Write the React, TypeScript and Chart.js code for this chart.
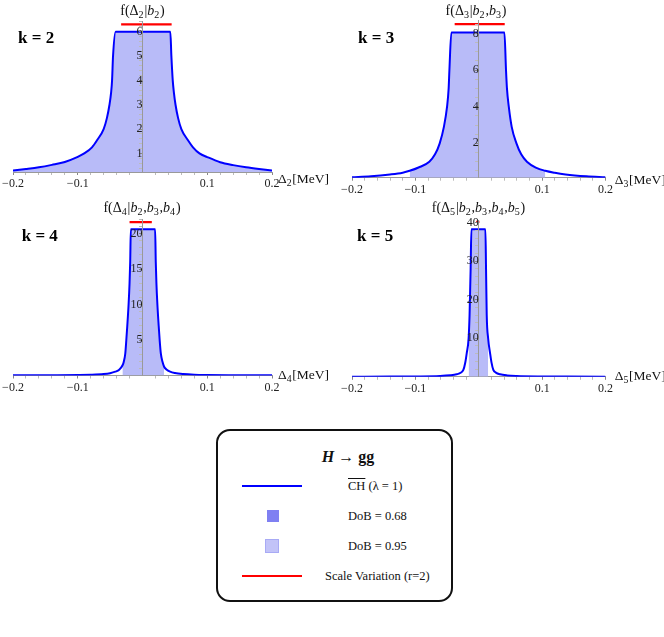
import React, { useEffect, useRef } from 'react';
import { Chart, registerables } from 'chart.js';

Chart.register(...registerables);

// ---------------- data ----------------
// k = 2
const k2X = [-0.2, -0.18, -0.16, -0.14, -0.12, -0.1, -0.09, -0.078, -0.07, -0.06, -0.055, -0.051, -0.0485, -0.047, -0.0455, -0.0415,
  0.043, 0.0446, 0.0467, 0.0485, 0.051, 0.055, 0.06, 0.07, 0.078, 0.088, 0.1, 0.12, 0.14, 0.16, 0.18, 0.2];
const k2Y = [0.3, 0.36, 0.43, 0.53, 0.65, 0.86, 1.0, 1.25, 1.55, 2.0, 2.45, 3.0, 3.5, 4.0, 5.0, 6.0,
  6.0, 5.0, 4.0, 3.5, 3.0, 2.45, 2.0, 1.55, 1.25, 1.0, 0.85, 0.64, 0.52, 0.43, 0.36, 0.3];
const k2Band = [-0.2, 0.2];
const k2RedX = [-0.033, 0.045];
const k2RedY = 6.3;

// k = 3
const k3X = [-0.2, -0.17, -0.14, -0.12, -0.109, -0.095, -0.078, -0.069, -0.0616, -0.055, -0.05, -0.0475, -0.0463, -0.0432,
  0.0405, 0.043, 0.0445, 0.0474, 0.052, 0.0595, 0.067, 0.076, 0.09, 0.105, 0.12, 0.137, 0.17, 0.2];
const k3Y = [0.15, 0.2, 0.3, 0.4, 0.5, 0.68, 1.0, 1.4, 2.0, 2.9, 4.0, 5.0, 6.0, 8.05,
  8.05, 6.0, 5.0, 4.0, 2.9, 2.0, 1.4, 1.0, 0.68, 0.5, 0.39, 0.3, 0.2, 0.15];
const k3Band = [-0.109, 0.105];
const k3RedX = [-0.038, 0.041];
const k3RedY = 8.5;

// k = 4
const k4X = [-0.2, -0.14, -0.1, -0.08, -0.06, -0.05, -0.042, -0.036, -0.031, -0.029, -0.0266, -0.025, -0.0235, -0.0215, -0.02, -0.019, -0.018,
  0.0195, 0.0205, 0.0215, 0.023, 0.025, 0.0265, 0.0283, 0.031, 0.0334, 0.037, 0.0426, 0.05, 0.063, 0.08, 0.1, 0.14, 0.2];
const k4Y = [0.02, 0.04, 0.065, 0.1, 0.2, 0.33, 0.54, 0.8, 1.4, 1.9, 3.1, 5.0, 7.0, 10.0, 13.0, 16.0, 20.6,
  20.6, 16.0, 13.0, 10.0, 7.0, 5.0, 3.1, 1.9, 1.24, 0.85, 0.54, 0.35, 0.2, 0.11, 0.07, 0.04, 0.02];
const k4Band = [-0.031, 0.0334];
const k4RedX = [-0.02, 0.0144];
const k4RedY = 21.6;

// k = 5
const k5X = [-0.2, -0.14, -0.1, -0.061, -0.045, -0.0348, -0.028, -0.0243, -0.0215, -0.019, -0.016, -0.0145, -0.0128, -0.0116,
  0.0105, 0.0115, 0.0126, 0.0148, 0.0179, 0.02, 0.023, 0.027, 0.0336, 0.045, 0.06, 0.1, 0.14, 0.2];
const k5Y = [0.03, 0.05, 0.08, 0.2, 0.38, 0.65, 1.1, 1.77, 3.5, 6.1, 10.0, 16.0, 28.0, 38.3,
  38.3, 28.0, 16.0, 10.0, 6.1, 3.8, 1.77, 1.1, 0.65, 0.35, 0.2, 0.08, 0.05, 0.03];
const k5Band = [-0.016, 0.0148];
const k5RedX = [-0.004, 0.001];
const k5RedY = 40.2;

// ticks
const xMajorTicks = [-0.2, -0.1, 0.1, 0.2];
const xMinorStep = 0.02;
const k2YTicks = [1, 2, 3, 4, 5, 6];
const k3YTicks = [2, 4, 6, 8];
const k4YTicks = [5, 10, 15, 20];
const k5YTicks = [10, 20, 30, 40];

// labels
const headers = ['f(Δ_2|~b~_2)', 'f(Δ_3|~b~_2,~b~_3)', 'f(Δ_4|~b~_2,~b~_3,~b~_4)', 'f(Δ_5|~b~_2,~b~_3,~b~_4,~b~_5)'];
const axisLabels = ['Δ_2[MeV]', 'Δ_3[MeV]', 'Δ_4[MeV]', 'Δ_5[MeV]'];
const kLabels = ['k = 2', 'k = 3', 'k = 4', 'k = 5'];

const panelData = [
  { xs: k2X, ys: k2Y, band: k2Band, redX: k2RedX, redY: k2RedY, yTicks: k2YTicks },
  { xs: k3X, ys: k3Y, band: k3Band, redX: k3RedX, redY: k3RedY, yTicks: k3YTicks },
  { xs: k4X, ys: k4Y, band: k4Band, redX: k4RedX, redY: k4RedY, yTicks: k4YTicks },
  { xs: k5X, ys: k5Y, band: k5Band, redX: k5RedX, redY: k5RedY, yTicks: k5YTicks },
];

// ---------------- layout / style ----------------
const X_AXIS_H = 20;
const panelLayout = [
  { left: 0, top: 0, pad: { left: 13, right: 60, top: 21, bottom: 28 - X_AXIS_H }, yMin: 0.237, yMax: 6.44, yMinor: 0.2,
    headerPos: [142.5, 10], axisPos: [278, 179], kPos: [18, 39] },
  { left: 332, top: 0, pad: { left: 20, right: 58.5, top: 20.7, bottom: 22.3 - X_AXIS_H }, yMin: 0.125, yMax: 8.69, yMinor: 0.5,
    headerPos: [144, 10], axisPos: [282.7, 180], kPos: [26, 39] },
  { left: 0, top: 200, pad: { left: 13, right: 60, top: 19.3, bottom: 24.5 - X_AXIS_H }, yMin: 0, yMax: 22, yMinor: 1,
    headerPos: [142, 7], axisPos: [278, 175], kPos: [21.7, 36.5] },
  { left: 332, top: 200, pad: { left: 20, right: 58.5, top: 20, bottom: 23.2 - X_AXIS_H }, yMin: 0, yMax: 40.7, yMinor: 2,
    headerPos: [146.5, 7], axisPos: [282.7, 176], kPos: [25, 36.5] },
];

const BLUE = 'rgb(0,0,255)';
const FILL = 'rgb(184,187,248)';
const RED = 'rgb(255,0,0)';
const AXIS = '#999999';
const SERIF = '"Liberation Serif", "Times New Roman", serif';

function fmtNum(v: number, digits: number) {
  return v.toFixed(digits).replace('-', '\u2212');
}

type Seg = { t: string; it: boolean; sub: boolean };
function parseRich(s: string): Seg[] {
  const segs: Seg[] = [];
  let it = false;
  for (let i = 0; i < s.length; i++) {
    const c = s[i];
    if (c === '~') { it = !it; continue; }
    if (c === '_') { segs.push({ t: s[i + 1], it: false, sub: true }); i++; continue; }
    const last = segs[segs.length - 1];
    if (last && !last.sub && last.it === it) last.t += c;
    else segs.push({ t: c, it, sub: false });
  }
  return segs;
}

function drawRich(ctx: CanvasRenderingContext2D, s: string, x: number, y: number, align: 'left' | 'center', size: number) {
  const segs = parseRich(s);
  const subSize = size * 0.72;
  const fontOf = (seg: Seg) => `${seg.it ? 'italic ' : ''}${seg.sub ? subSize : size}px ${SERIF}`;
  let total = 0;
  const widths = segs.map((seg) => {
    ctx.font = fontOf(seg);
    const w = ctx.measureText(seg.t).width + (seg.sub ? 0.8 : 0);
    total += w;
    return w;
  });
  let cx = align === 'center' ? x - total / 2 : x;
  ctx.textAlign = 'left';
  ctx.textBaseline = 'alphabetic';
  const base = y + size * 0.33;
  segs.forEach((seg, i) => {
    ctx.font = fontOf(seg);
    ctx.fillText(seg.t, cx, seg.sub ? base + size * 0.22 : base);
    cx += widths[i];
  });
}

const textPlugin = {
  id: 'panelText',
  afterDraw(chart: any, _args: any, opts: any) {
    const ctx: CanvasRenderingContext2D = chart.ctx;
    ctx.save();
    ctx.fillStyle = '#111';
    drawRich(ctx, opts.header, opts.headerPos[0], opts.headerPos[1], 'center', 14);
    drawRich(ctx, opts.axisLabel, opts.axisPos[0], opts.axisPos[1], 'left', 13.5);
    ctx.font = `bold 17px ${SERIF}`;
    ctx.textAlign = 'left';
    ctx.textBaseline = 'middle';
    ctx.fillStyle = '#000';
    ctx.fillText(opts.kLabel, opts.kPos[0], opts.kPos[1]);
    ctx.restore();
  },
};

function Panel({ idx }: { idx: number }) {
  const ref = useRef<HTMLCanvasElement>(null);
  useEffect(() => {
    const d = panelData[idx];
    const L = panelLayout[idx];
    const pts = d.xs.map((x, i) => ({ x, y: d.ys[i] }));
    const bandPts = pts.filter((p) => p.x >= d.band[0] && p.x <= d.band[1]);
    const redPts = [{ x: d.redX[0], y: d.redY }, { x: d.redX[1], y: d.redY }];

    const xTickVals: number[] = [];
    for (let i = Math.round(-0.2 / xMinorStep); i <= Math.round(0.2 / xMinorStep); i++) {
      const v = Math.round(i * xMinorStep * 1000) / 1000;
      if (v !== 0) xTickVals.push(v);
    }
    const isXMajor = (v: number) => xMajorTicks.some((m) => Math.abs(m - v) < 1e-9);

    const yTickVals: number[] = [];
    for (let i = Math.ceil(L.yMin / L.yMinor - 1e-9); i * L.yMinor <= L.yMax + 1e-9; i++) {
      const v = Math.round(i * L.yMinor * 1000) / 1000;
      if (v !== 0) yTickVals.push(v);
    }
    const isYMajor = (v: number) => d.yTicks.some((m) => Math.abs(m - v) < 1e-9);

    const chart = new Chart(ref.current as HTMLCanvasElement, {
      type: 'line',
      data: {
        datasets: [
          {
            data: pts, borderColor: BLUE, borderWidth: 2, pointRadius: 0, fill: false,
            cubicInterpolationMode: 'monotone', order: 0,
          } as any,
          {
            data: redPts, borderColor: RED, borderWidth: 2.2, pointRadius: 0, fill: false, order: 1,
          } as any,
          {
            data: bandPts, borderWidth: 0, borderColor: 'rgba(0,0,0,0)', backgroundColor: FILL, pointRadius: 0,
            fill: 'start', cubicInterpolationMode: 'monotone', order: 2,
          } as any,
        ],
      },
      options: {
        animation: false,
        responsive: false,
        maintainAspectRatio: false,
        events: [],
        layout: { padding: L.pad },
        plugins: {
          legend: { display: false },
          tooltip: { enabled: false },
          title: { display: false },
          panelText: {
            header: headers[idx], axisLabel: axisLabels[idx], kLabel: kLabels[idx],
            headerPos: L.headerPos, axisPos: L.axisPos, kPos: L.kPos,
          },
        } as any,
        scales: {
          x: {
            type: 'linear',
            min: -0.2,
            max: 0.2,
            position: 'bottom',
            afterBuildTicks: (s: any) => { s.ticks = xTickVals.map((v) => ({ value: v })); },
            afterFit: (s: any) => { s.height = X_AXIS_H; },
            border: { display: true, color: AXIS, width: 1, z: 0 },
            grid: {
              display: true, drawOnChartArea: false, drawTicks: true, tickLength: 3, z: 0,
              tickColor: (c: any) => (c.tick && isXMajor(c.tick.value) ? '#888' : '#bbb'),
            },
            ticks: {
              autoSkip: false, maxRotation: 0, minRotation: 0, padding: 2, color: '#222', z: 1,
              font: { family: SERIF, size: 12 },
              callback: (v: any) => (isXMajor(Number(v)) ? fmtNum(Number(v), 1) : ''),
            },
          } as any,
          y: {
            type: 'linear',
            min: L.yMin,
            max: L.yMax,
            position: { x: 0 } as any,
            afterBuildTicks: (s: any) => { s.ticks = yTickVals.map((v) => ({ value: v })); },
            afterFit: (s: any) => { s.width = 0; },
            border: { display: true, color: AXIS, width: 1, z: 1 },
            grid: {
              display: true, drawOnChartArea: false, drawTicks: true, tickLength: 3, z: 1,
              tickColor: (c: any) => (c.tick && isYMajor(c.tick.value) ? '#888' : '#bbb'),
            },
            ticks: {
              autoSkip: false, padding: 1, color: '#222', z: 1,
              font: { family: SERIF, size: 12 },
              callback: (v: any) => (isYMajor(Number(v)) ? String(Number(v)) : ''),
            },
          } as any,
        },
      },
      plugins: [textPlugin as any],
    });
    return () => chart.destroy();
  }, [idx]);
  const L = panelLayout[idx];
  return (
    <canvas
      ref={ref}
      width={332}
      height={200}
      style={{ position: 'absolute', left: L.left, top: L.top, width: 332, height: 200 }}
    />
  );
}

const legendText: React.CSSProperties = {
  position: 'absolute', fontFamily: SERIF, fontSize: 12.5, color: '#111', height: 20, lineHeight: '20px', whiteSpace: 'nowrap',
};

function Legend() {
  return (
    <>
      <div style={{
        position: 'absolute', left: 216, top: 429, width: 237, height: 173, boxSizing: 'border-box',
        border: '2px solid #111', borderRadius: 14, background: '#fff',
      }} />
      <div style={{
        position: 'absolute', left: 248, width: 200, top: 447, height: 20, lineHeight: '20px', textAlign: 'center',
        fontFamily: SERIF, fontSize: 16, fontWeight: 'bold', color: '#111', whiteSpace: 'nowrap',
      }}>
        <span style={{ fontStyle: 'italic' }}>H</span>{' \u2192 gg'}
      </div>
      <div style={{ position: 'absolute', left: 242, top: 485, width: 60, height: 2, background: BLUE }} />
      <div style={{ ...legendText, left: 348, top: 476 }}>
        <span style={{ textDecoration: 'overline' }}>CH</span>{' (\u03bb = 1)'}
      </div>
      <div style={{ position: 'absolute', left: 267, top: 510, width: 12, height: 12, background: 'rgb(127,128,242)' }} />
      <div style={{ ...legendText, left: 348, top: 506 }}>DoB = 0.68</div>
      <div style={{
        position: 'absolute', left: 265, top: 539, width: 14, height: 14, boxSizing: 'border-box',
        background: 'rgb(194,195,248)', border: '1.5px solid rgb(168,170,245)',
      }} />
      <div style={{ ...legendText, left: 348, top: 536 }}>DoB = 0.95</div>
      <div style={{ position: 'absolute', left: 242, top: 575, width: 60, height: 2, background: RED }} />
      <div style={{ ...legendText, left: 325, top: 566 }}>Scale Variation (r=2)</div>
    </>
  );
}

export default function App() {
  return (
    <div style={{ position: 'absolute', left: 0, top: 0, width: 664, height: 637, background: '#fff' }}>
      <Panel idx={0} />
      <Panel idx={1} />
      <Panel idx={2} />
      <Panel idx={3} />
      <Legend />
    </div>
  );
}
